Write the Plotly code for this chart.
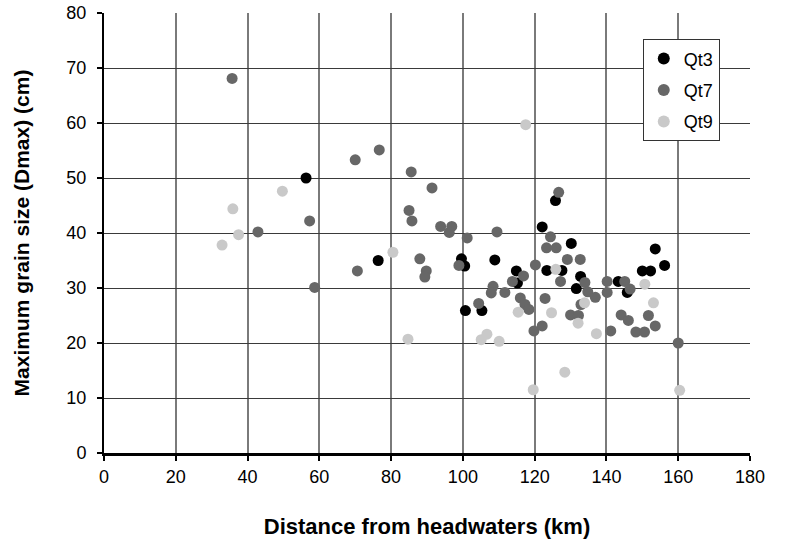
import plotly.graph_objects as go

# Qt3 (black)
qt3_x = [56.3, 76.4, 99.6, 100.5, 108.9, 100.7, 105.3, 114.9, 115.2, 122.1, 123.4,
         125.8, 127.6, 130.2, 132.8, 131.6, 143.3, 145.8, 150.0, 152.3, 153.6, 156.2]
qt3_y = [50.0, 35.0, 35.3, 34.0, 35.1, 25.9, 25.9, 33.1, 30.9, 41.1, 33.2,
         45.9, 33.2, 38.1, 32.1, 29.9, 31.2, 29.2, 33.1, 33.1, 37.1, 34.1]

# Qt7 (dark grey)
qt7_x = [35.7, 42.9, 57.3, 58.7, 70.0, 70.6, 76.7, 85.6, 91.4, 85.0, 85.8, 88.0,
         89.8, 89.4, 93.8, 96.9, 96.2, 101.2, 98.9, 109.5, 104.4, 108.4, 107.9,
         111.7, 113.8, 116.0, 117.3, 118.4, 116.9, 120.2, 122.9, 119.8, 122.1,
         124.4, 123.3, 126.0, 126.7, 129.1, 132.7, 127.2, 134.0, 134.8, 136.9,
         132.9, 130.0, 132.2, 140.2, 140.2, 145.1, 146.6, 141.2, 144.1, 146.1,
         148.2, 150.6, 151.7, 153.6, 160.0]
qt7_y = [68.1, 40.2, 42.2, 30.1, 53.3, 33.1, 55.1, 51.1, 48.2, 44.1, 42.2, 35.3,
         33.1, 32.0, 41.2, 41.2, 40.1, 39.1, 34.1, 40.2, 27.2, 30.3, 29.1,
         29.2, 31.2, 28.2, 27.0, 26.1, 32.2, 34.2, 28.1, 22.2, 23.1,
         39.3, 37.3, 37.3, 47.4, 35.2, 35.2, 31.2, 31.0, 29.3, 28.3,
         27.0, 25.1, 25.0, 31.2, 29.2, 31.2, 29.8, 22.2, 25.1, 24.1,
         22.0, 22.0, 25.0, 23.1, 20.0]

# Qt9 (light grey)
qt9_x = [32.9, 35.9, 37.5, 49.7, 80.5, 84.7, 105.1, 106.7, 110.1, 117.5, 115.4,
         124.7, 125.9, 119.6, 128.4, 133.9, 132.1, 137.2, 150.7, 153.1, 160.4]
qt9_y = [37.8, 44.4, 39.7, 47.6, 36.5, 20.7, 20.6, 21.6, 20.3, 59.7, 25.6,
         25.5, 33.4, 11.5, 14.7, 27.3, 23.6, 21.7, 30.7, 27.3, 11.4]

series = [
    ("Qt3", qt3_x, qt3_y, "#000000"),
    ("Qt7", qt7_x, qt7_y, "#676767"),
    ("Qt9", qt9_x, qt9_y, "#c9c9c9"),
]

x_ticks = list(range(0, 181, 20))
y_ticks = list(range(0, 81, 10))

FONT = "Liberation Sans, Arial, sans-serif"

fig = go.Figure()
for name, xs, ys, col in series:
    fig.add_trace(go.Scatter(
        x=xs, y=ys, mode="markers", name=name, legendgroup=name,
        marker=dict(size=11, color=col, line=dict(width=0)),
    ))

fig.update_layout(
    width=789, height=545,
    margin=dict(l=104, r=39, t=13, b=92),
    paper_bgcolor="white", plot_bgcolor="white",
    font=dict(family=FONT, size=16, color="black"),
    showlegend=True,
    legend=dict(
        x=0.834, y=0.94, xanchor="left", yanchor="top",
        bgcolor="white", bordercolor="#333333", borderwidth=1,
        font=dict(family=FONT, size=18, color="black"),
        tracegroupgap=5, itemsizing="constant",
    ),
    xaxis=dict(
        range=[0, 180], tickvals=x_ticks, ticktext=[str(v) for v in x_ticks],
        automargin=False,
        showgrid=True, gridcolor="#7a7a7a", gridwidth=1.5,
        zeroline=False, showline=True, linecolor="black", linewidth=3,
        ticks="outside", ticklen=5, tickcolor="black", tickwidth=1.5,
        tickfont=dict(family=FONT, size=18, color="black"),
        title=dict(text="<b>Distance from headwaters (km)</b>",
                   font=dict(family=FONT, size=22, color="black"), standoff=34),
    ),
    yaxis=dict(
        range=[0, 80], tickvals=y_ticks, ticktext=[str(v) for v in y_ticks],
        automargin=False, ticklabelstandoff=7,
        showgrid=True, gridcolor="#3a3a3a", gridwidth=1,
        zeroline=False, showline=True, linecolor="black", linewidth=2,
        ticks="outside", ticklen=5, tickcolor="black", tickwidth=1.5,
        tickfont=dict(family=FONT, size=18, color="black"),
        title=dict(text="<b>Maximum grain size (Dmax) (cm)</b>",
                   font=dict(family=FONT, size=21, color="black"), standoff=31),
    ),
)

fig.write_html("out.html")
